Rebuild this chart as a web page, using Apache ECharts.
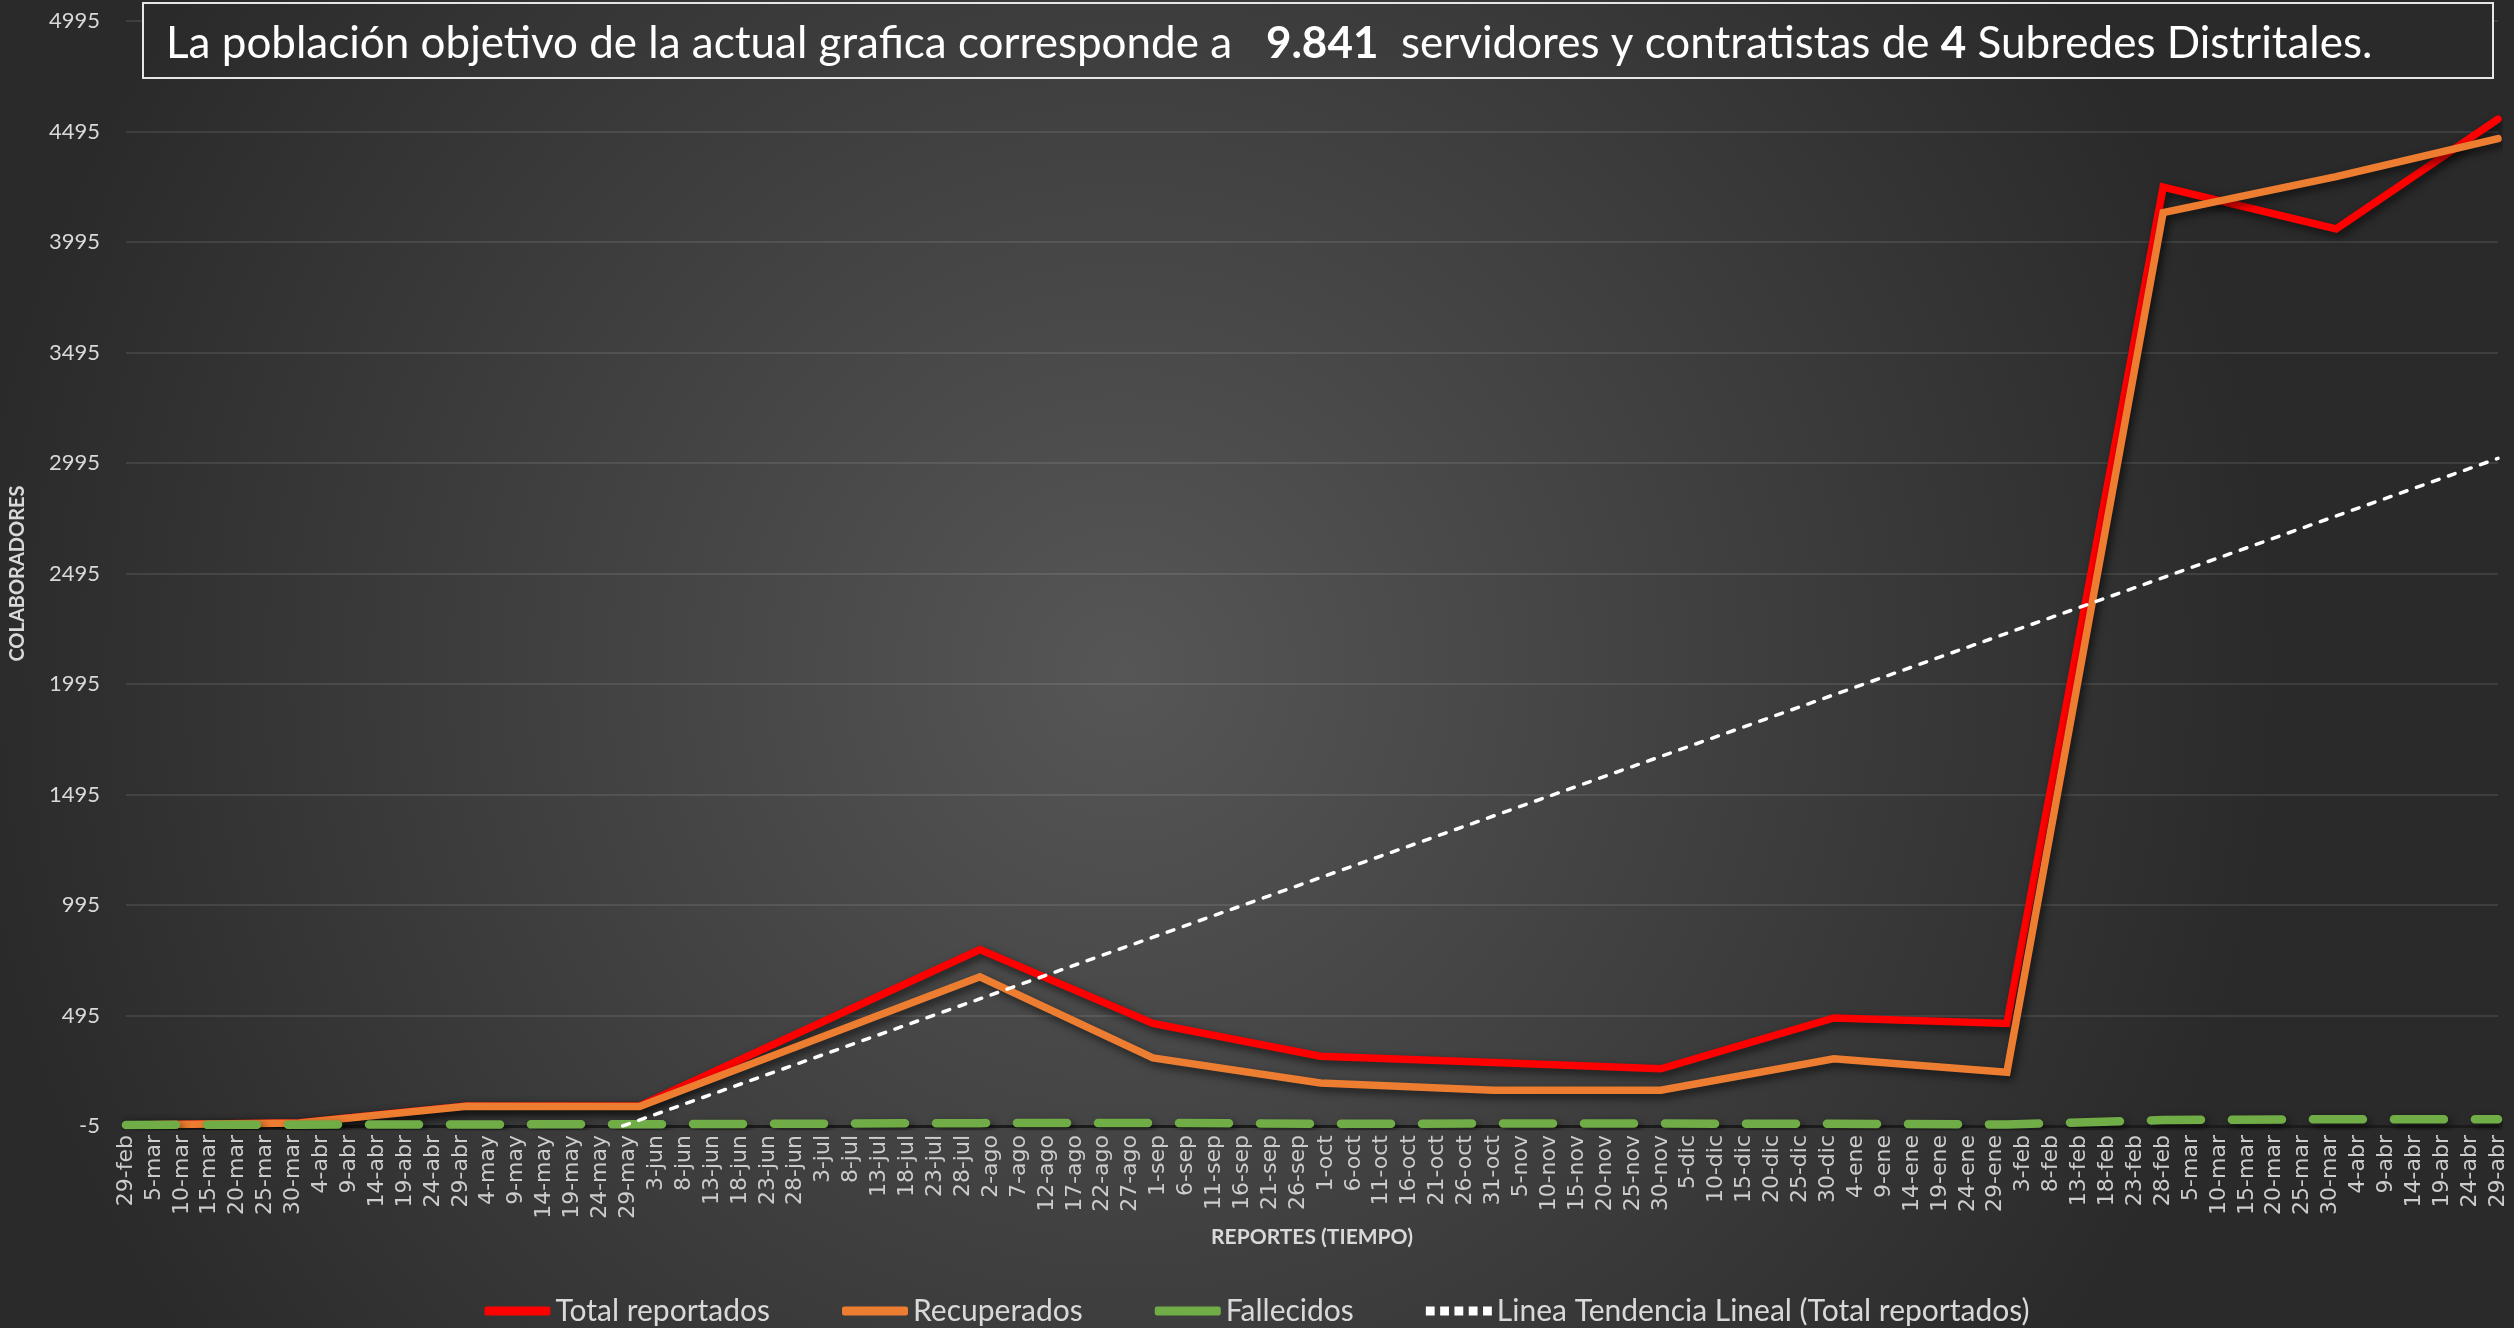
<!DOCTYPE html>
<html>
<head>
<meta charset="utf-8">
<script src="https://cdn.jsdelivr.net/npm/echarts@6/dist/echarts.min.js"></script>
<style>
html,body{margin:0;padding:0;background:#2a2a2a;}
#chart{width:2514px;height:1328px;}
</style>
</head>
<body>
<div id="chart"></div>
<script>
// ---- tick labels of the date axis (every 5 days, 29-feb-2020 .. 29-abr-2021)
const xTickLabels = ['29-feb','5-mar','10-mar','15-mar','20-mar','25-mar','30-mar','4-abr','9-abr','14-abr','19-abr','24-abr','29-abr','4-may','9-may','14-may','19-may','24-may','29-may','3-jun','8-jun','13-jun','18-jun','23-jun','28-jun','3-jul','8-jul','13-jul','18-jul','23-jul','28-jul','2-ago','7-ago','12-ago','17-ago','22-ago','27-ago','1-sep','6-sep','11-sep','16-sep','21-sep','26-sep','1-oct','6-oct','11-oct','16-oct','21-oct','26-oct','31-oct','5-nov','10-nov','15-nov','20-nov','25-nov','30-nov','5-dic','10-dic','15-dic','20-dic','25-dic','30-dic','4-ene','9-ene','14-ene','19-ene','24-ene','29-ene','3-feb','8-feb','13-feb','18-feb','23-feb','28-feb','5-mar','10-mar','15-mar','20-mar','25-mar','30-mar','4-abr','9-abr','14-abr','19-abr','24-abr','29-abr'];

// ---- report dates (x of each data point)
const reportDates = ['2020-02-29','2020-03-31','2020-04-30','2020-05-31','2020-07-31','2020-08-31','2020-09-30','2020-10-31','2020-11-30','2020-12-31','2021-01-31','2021-02-28','2021-03-31','2021-04-29'];

// ---- series values
const totalReportados = [0, 10, 86, 86, 793, 459, 311, 282, 254, 484, 459, 4243, 4054, 4551];
const recuperados     = [0, 9, 84, 83, 670, 303, 190, 157, 157, 299, 238, 4128, 4291, 4463];
const fallecidos      = [0, 1, 2, 3, 8, 9, 5, 6, 6, 5, 2, 22, 26, 26];

// ---- linear trend line of Total reportados (visible part)
const trendDates  = ['2020-05-28', '2021-04-29'];
const trendValues = [-5, 3016];

// ---- y axis ticks
const yMin = -5, yMax = 4995, yStep = 500;

const seriesNames = ['Total reportados', 'Recuperados', 'Fallecidos', 'Linea Tendencia Lineal (Total reportados)'];

function dayOffset(s) {
  const p = s.split('-').map(Number);
  return Math.round((Date.UTC(p[0], p[1] - 1, p[2]) - Date.UTC(2020, 1, 29)) / 86400000);
}
function pairs(dates, vals) { return dates.map((d, i) => [dayOffset(d), vals[i]]); }

const xMax = (xTickLabels.length - 1) * 5;
const font = 'Lato, "Open Sans", sans-serif';
const shadow = { shadowColor: 'rgba(0,0,0,0.6)', shadowBlur: 8, shadowOffsetX: 3, shadowOffsetY: 4 };

const bgGrad = { type: 'radial', x: 1122, y: 673, r: 1160, global: true,
  colorStops: [{ offset: 0, color: '#565656' }, { offset: 1, color: '#2a2a2a' }] };

const dotsIcon = 'path://M0,0h8v8h-8z M13,0h8v8h-8z M26,0h8v8h-8z M39,0h8v8h-8z M52,0h8v8h-8z';

const chart = echarts.init(document.getElementById('chart'));
chart.setOption({
  backgroundColor: { type: 'radial', x: 1122 / 2514, y: 673 / 1328, r: 1160 / 1328,
    colorStops: [{ offset: 0, color: '#565656' }, { offset: 1, color: '#2a2a2a' }] },
  animation: false,
  title: {
    left: 161, top: 13,
    text: '{n|La población objetivo de la actual grafica corresponde a   }{b|9.841}{n|  servidores y contratistas de }{b|4}{n| Subredes Distritales.}',
    textStyle: {
      fontWeight: 'normal',
      rich: {
        n: { fontFamily: font, fontSize: 44, color: '#ffffff', fontWeight: 'normal', lineHeight: 52 },
        b: { fontFamily: font, fontSize: 44, color: '#ffffff', fontWeight: 'bold', lineHeight: 52 }
      }
    },
    z: 110
  },
  graphic: [{
    type: 'rect', z: 100,
    shape: { x: 143, y: 3, width: 2350, height: 75 },
    style: { fill: bgGrad, stroke: '#e6e6e6', lineWidth: 2 }
  }],
  legend: {
    data: [
      { name: seriesNames[0], icon: 'roundRect' },
      { name: seriesNames[1], icon: 'roundRect' },
      { name: seriesNames[2], icon: 'roundRect' },
      { name: seriesNames[3], icon: dotsIcon }
    ],
    left: 'center', top: 1291,
    itemWidth: 66, itemHeight: 9, itemGap: 72,
    textStyle: { fontFamily: font, fontSize: 30, color: '#d9d9d9' }
  },
  grid: { left: 119, right: 16, top: 21, bottom: 202, containLabel: false },
  xAxis: {
    type: 'value', min: 0, max: xMax, interval: 5,
    name: 'REPORTES (TIEMPO)', nameLocation: 'middle', nameGap: 97,
    nameTextStyle: { fontFamily: font, fontSize: 21, fontWeight: 'bold', color: '#d9d9d9' },
    axisLine: { show: true, onZero: false, lineStyle: { color: '#1c1c1c', width: 3 } },
    axisTick: { show: false },
    splitLine: { show: false },
    axisLabel: {
      rotate: 90, margin: 9, showMinLabel: true, showMaxLabel: true, hideOverlap: false,
      fontFamily: '"DejaVu Sans", sans-serif', fontSize: 22, color: '#cccccc',
      formatter: v => xTickLabels[Math.round(v / 5)]
    }
  },
  yAxis: {
    type: 'value', min: yMin, max: yMax, interval: yStep,
    name: 'COLABORADORES', nameLocation: 'middle', nameGap: 98, nameRotate: 90,
    nameTextStyle: { fontFamily: font, fontSize: 20, fontWeight: 'bold', color: '#d9d9d9' },
    axisLine: { show: false }, axisTick: { show: false },
    axisLabel: { fontFamily: font, fontSize: 22, color: '#d9d9d9', margin: 26,
      formatter: v => String(v) },
    splitLine: { lineStyle: { color: 'rgba(255,255,255,0.13)', width: 1.5 } }
  },
  series: [
    { name: seriesNames[0], type: 'line', symbol: 'none', z: 3,
      data: pairs(reportDates, totalReportados),
      itemStyle: { color: '#ff0000' },
      lineStyle: Object.assign({ color: '#ff0000', width: 7.5, join: 'miter', cap: 'round' }, shadow) },
    { name: seriesNames[1], type: 'line', symbol: 'none', z: 4,
      data: pairs(reportDates, recuperados),
      itemStyle: { color: '#ed7d31' },
      lineStyle: Object.assign({ color: '#ed7d31', width: 7.5, join: 'miter', cap: 'round' }, shadow) },
    { name: seriesNames[2], type: 'line', symbol: 'none', z: 5,
      data: pairs(reportDates, fallecidos),
      itemStyle: { color: '#70ad47' },
      lineStyle: Object.assign({ color: '#70ad47', width: 8.5, type: [50, 31], cap: 'round' }, shadow) },
    { name: seriesNames[3], type: 'line', symbol: 'none', z: 6,
      data: pairs(trendDates, trendValues),
      itemStyle: { color: '#ffffff' },
      lineStyle: { color: '#ffffff', width: 3.5, type: [7, 10], cap: 'round' } }
  ]
});
</script>
</body>
</html>
